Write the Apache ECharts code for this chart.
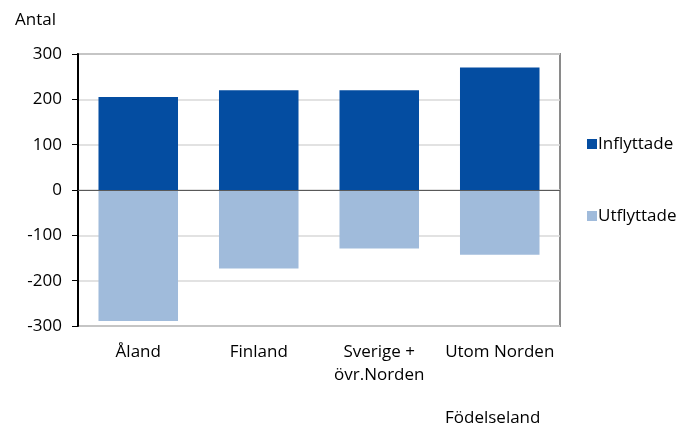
<!DOCTYPE html>
<html>
<head>
<meta charset="utf-8">
<script src="https://cdn.jsdelivr.net/npm/echarts@6/dist/echarts.min.js"></script>
<style>
  html, body { margin: 0; padding: 0; background: #fff; }
  #chart { width: 682px; height: 427px; }
</style>
</head>
<body>
<div id="chart"></div>
<script>
// Födelseland categories
const categories = ['Åland', 'Finland', 'Sverige +\növr.Norden', 'Utom Norden'];
const inflyttade = [205, 220, 220, 270];
const utflyttade = [-289, -173, -129, -143];
const yTicks = { min: -300, max: 300, interval: 100 };

const font = 'Open Sans';
const chart = echarts.init(document.getElementById('chart'));

chart.setOption({
  backgroundColor: '#fff',
  animation: false,
  textStyle: { fontFamily: font },
  grid: {
    left: 78, right: 122, top: 54, bottom: 101,
    show: true, borderColor: '#8a8a8a', borderWidth: 2
  },
  title: [
    { text: 'Antal', left: 10, top: 7, textStyle: { fontFamily: font, fontSize: 17, fontWeight: 'normal', color: '#000' } },
    { text: 'Födelseland', left: 440, top: 405, textStyle: { fontFamily: font, fontSize: 17, fontWeight: 'normal', color: '#000' } }
  ],
  legend: {
    orient: 'vertical',
    left: 582, top: 128,
    itemWidth: 10, itemHeight: 10, itemGap: 50,
    icon: 'rect',
    textStyle: { fontFamily: font, fontSize: 17, color: '#000', lineHeight: 22, padding: [0, 0, 0, -4] },
    data: ['Inflyttade', 'Utflyttade']
  },
  xAxis: {
    type: 'category',
    data: categories,
    axisLine: { show: false, onZero: false },
    axisTick: { show: false },
    axisLabel: { color: '#000', fontSize: 17, margin: 15, lineHeight: 23, interval: 0 },
    splitLine: { show: false }
  },
  yAxis: {
    type: 'value',
    min: yTicks.min, max: yTicks.max, interval: yTicks.interval,
    axisLine: { show: true, onZero: false, lineStyle: { color: '#000', width: 2 } },
    axisTick: { show: true, length: 6, lineStyle: { color: '#000' } },
    axisLabel: { color: '#000', fontSize: 17, margin: 16 },
    splitLine: { lineStyle: { color: '#d9d9d9', width: 1.5 } }
  },
  series: [
    {
      name: 'Inflyttade',
      type: 'bar',
      stack: 'flytt',
      barWidth: '66%',
      data: inflyttade,
      itemStyle: { color: '#044da1' },
      markLine: {
        silent: true, symbol: 'none', label: { show: false },
        lineStyle: { color: '#595959', width: 1.2, type: 'solid' },
        data: [{ yAxis: 0 }]
      }
    },
    {
      name: 'Utflyttade',
      type: 'bar',
      stack: 'flytt',
      barWidth: '66%',
      data: utflyttade,
      itemStyle: { color: '#a0bbdb' }
    }
  ]
});
</script>
</body>
</html>
